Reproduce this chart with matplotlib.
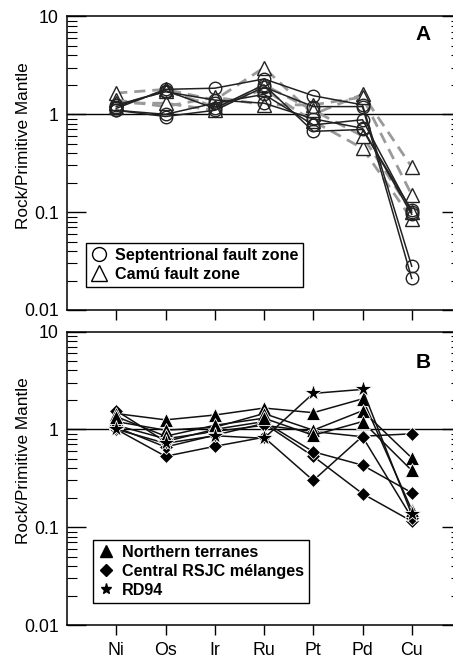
import matplotlib
matplotlib.use("Agg")
import matplotlib.pyplot as plt
from matplotlib.lines import Line2D
from matplotlib.ticker import LogLocator, NullFormatter, FixedLocator, FixedFormatter

plt.rcParams['font.family'] = ['Liberation Sans', 'DejaVu Sans']

elements = ["Ni", "Os", "Ir", "Ru", "Pt", "Pd", "Cu"]

# Panel A: Septentrional fault zone (circles, solid black)
sept_1 = [1.15, 1.80, 1.85, 2.30, 1.55, 1.25, 0.028]
sept_2 = [1.10, 0.95, 1.10, 1.90, 1.20, 1.20, 0.021]
sept_3 = [1.20, 1.75, 1.15, 2.00, 0.67, 0.70, 0.105]
sept_4 = [1.10, 1.00, 1.30, 1.60, 0.78, 0.88, 0.100]
sept_5 = [1.25, 1.70, 1.40, 1.30, 0.90, 0.72, 0.095]
sept_series = [sept_1, sept_2, sept_3, sept_4, sept_5]

# Panel A: Camú fault zone (triangles, dashed grey)
camu_1 = [1.65, 1.80, 1.40, 3.00, 1.00, 1.60, 0.29]
camu_2 = [1.40, 1.20, 1.50, 1.25, 1.25, 1.50, 0.15]
camu_3 = [1.20, 1.75, 1.20, 1.80, 0.85, 0.45, 0.085]
camu_4 = [1.30, 1.30, 1.10, 2.00, 1.10, 0.60, 0.100]
camu_series = [camu_1, camu_2, camu_3, camu_4]

# Panel B: Northern terranes (filled triangles)
north_1 = [1.45, 1.25, 1.40, 1.65, 1.48, 2.05, 0.15]
north_2 = [1.20, 0.98, 1.05, 1.45, 0.98, 1.55, 0.51]
north_3 = [1.35, 0.85, 1.10, 1.30, 0.87, 1.20, 0.38]
north_series = [north_1, north_2, north_3]

# Panel B: Central RSJC mélanges (filled diamonds)
cent_1 = [1.00, 0.53, 0.67, 0.83, 0.30, 0.85, 0.90]
cent_2 = [1.05, 0.66, 0.87, 1.15, 0.53, 0.22, 0.115]
cent_3 = [1.55, 0.75, 1.00, 1.20, 0.59, 0.43, 0.225]
cent_4 = [1.10, 0.80, 0.95, 1.10, 0.95, 0.84, 0.125]
cent_series = [cent_1, cent_2, cent_3, cent_4]

# Panel B: RD94 (stars)
rd94 = [1.00, 0.72, 0.86, 0.81, 2.33, 2.56, 0.135]

x = list(range(1, len(elements) + 1))

W, H = 453, 661
fig = plt.figure(figsize=(W / 100, H / 100), dpi=100)

def px_axes(left, right, top, bottom):
    return fig.add_axes([left / W, 1 - bottom / H, (right - left) / W, (bottom - top) / H])

axA = px_axes(67, 461, 16.5, 310)
axB = px_axes(67, 461, 331.5, 625)

tick_fs = 12.8
lab_fs = 12.4
leg_fs = 11.6

def style(ax, labels):
    ax.set_yscale('log')
    ax.set_ylim(0.01, 10)
    ax.set_xlim(0, 8)
    ax.axhline(1, color='black', lw=1.0, zorder=1)
    ax.yaxis.set_major_locator(FixedLocator([0.01, 0.1, 1, 10]))
    ax.yaxis.set_major_formatter(FixedFormatter(["0.01", "0.1", "1", "10"]))
    ax.yaxis.set_minor_locator(LogLocator(base=10, subs=range(2, 10)))
    ax.yaxis.set_minor_formatter(NullFormatter())
    ax.tick_params(axis='y', which='major', direction='in', length=14, width=1.0,
                   labelsize=tick_fs, right=True, pad=6)
    ax.tick_params(axis='y', which='minor', direction='in', length=7, width=0.8, right=True)
    ax.set_xticks(x)
    ax.tick_params(axis='x', which='major', direction='out', length=7, width=1.0,
                   labelsize=tick_fs, top=False, pad=5)
    if labels:
        ax.set_xticklabels(elements)
    else:
        ax.set_xticklabels([])
    ax.set_ylabel("Rock/Primitive Mantle", fontsize=lab_fs)
    ax.yaxis.set_label_coords(-0.092, 0.56)
    for s in ax.spines.values():
        s.set_linewidth(1.1)

style(axA, False)
style(axB, True)

# Panel A
for s in camu_series:
    axA.plot(x, s, color='#9a9a9a', lw=2.0, ls=(0, (4, 2.5)), marker='^', ms=9.5,
             mfc='white', mec='#222222', mew=1.0, zorder=2)
for s in sept_series:
    axA.plot(x, s, color='#222222', lw=1.1, ls='-', marker='o', ms=9,
             mfc='none', mec='#222222', mew=1.0, zorder=3)

axA.text(7.23, 6.6, "A", fontsize=15, fontweight='bold', ha='center', va='center')

hA = [Line2D([], [], ls='none', marker='o', ms=10, mfc='white', mec='black', mew=1.0),
      Line2D([], [], ls='none', marker='^', ms=12, mfc='white', mec='black', mew=1.0)]
legA = axA.legend(hA, ["Septentrional fault zone", "Camú fault zone"],
                  loc='upper left', bbox_to_anchor=((86 - 67) / 394, (310 - 243) / 293.5),
                  frameon=True, fancybox=False, edgecolor='black', framealpha=1,
                  prop={'weight': 'bold', 'size': leg_fs}, handlelength=1.0,
                  handletextpad=0.5, borderpad=0.3, labelspacing=0.25, borderaxespad=0)
legA.get_frame().set_linewidth(1.0)

# Panel B
for s in cent_series:
    axB.plot(x, s, color='#111111', lw=1.1, marker='D', ms=7, mfc='black',
             mec='white', mew=0.6, zorder=3)
for s in north_series:
    axB.plot(x, s, color='#111111', lw=1.1, marker='^', ms=9.5, mfc='black',
             mec='white', mew=0.6, zorder=3)
axB.plot(x, rd94, color='#111111', lw=1.1, marker='*', ms=13, mfc='black',
         mec='white', mew=0.6, zorder=4)

axB.text(7.23, 4.8, "B", fontsize=15, fontweight='bold', ha='center', va='center')

hB = [Line2D([], [], ls='none', marker='^', ms=9, mfc='black', mec='black'),
      Line2D([], [], ls='none', marker='D', ms=6.5, mfc='black', mec='black'),
      Line2D([], [], ls='none', marker='*', ms=8, mfc='black', mec='black')]
legB = axB.legend(hB, ["Northern terranes", "Central RSJC mélanges", "RD94"],
                  loc='upper left', bbox_to_anchor=((93 - 67) / 394, (625 - 540) / 293.5),
                  frameon=True, fancybox=False, edgecolor='black', framealpha=1,
                  prop={'weight': 'bold', 'size': leg_fs}, handlelength=1.0,
                  handletextpad=0.5, borderpad=0.3, labelspacing=0.25, borderaxespad=0)
legB.get_frame().set_linewidth(1.0)

fig.savefig("out.png", dpi=100)
